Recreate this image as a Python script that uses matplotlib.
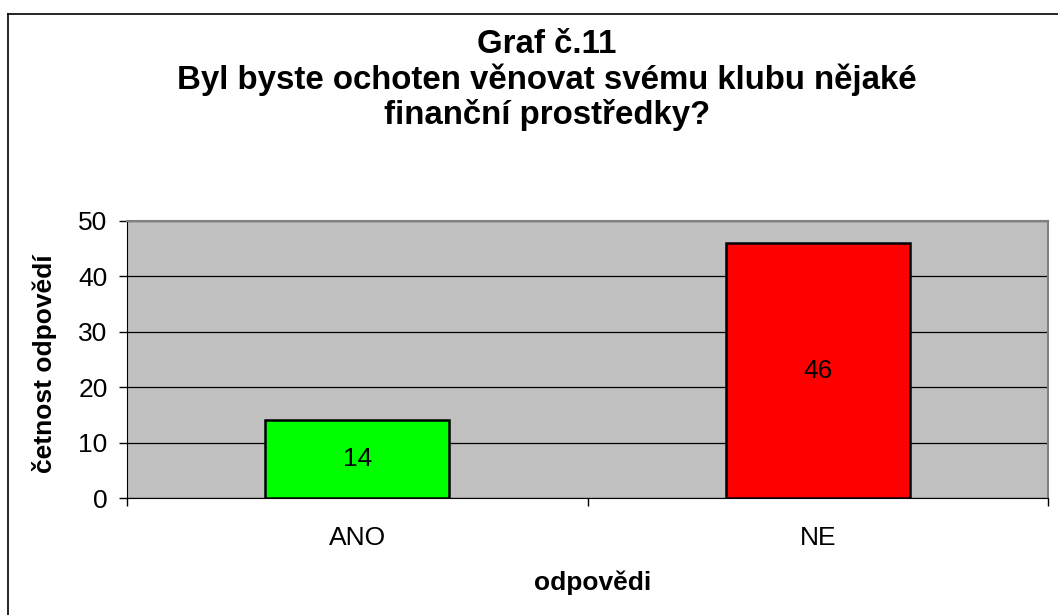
import matplotlib.pyplot as plt
import numpy as np

plt.rcParams['font.family'] = ['Liberation Sans', 'DejaVu Sans']

# Data
categories = ['ANO', 'NE']
counts = [14, 46]
colors = ['#00FF00', '#FF0000']

fig = plt.figure(figsize=(10.58, 6.15), dpi=100)
W, H = 1058, 615
# plot area in pixels: left 127, right 1048, top 221, bottom 498
ax = fig.add_axes([127 / W, 1 - 498 / H, (1048 - 127) / W, (498 - 221) / H])

x = np.arange(len(categories))
ax.set_facecolor('#C0C0C0')
ax.set_axisbelow(True)
ax.yaxis.grid(True, color='black', linewidth=0.9)
bars = ax.bar(x, counts, width=0.40, color=colors, edgecolor='black', linewidth=1.8, zorder=3)
for b, v in zip(bars, counts):
    ax.text(b.get_x() + b.get_width() / 2, v / 2, str(v), ha='center', va='center',
            fontsize=19, zorder=4)

ax.set_xlim(-0.5, len(categories) - 0.5)
ax.set_ylim(0, 50)
ax.set_yticks(range(0, 51, 10))
ax.tick_params(axis='y', labelsize=19, length=6, width=1, pad=8)

# category labels between boundary ticks
ax.set_xticks(np.arange(-0.5, len(categories), 1.0))
ax.set_xticklabels([])
ax.set_xticks(x, minor=True)
ax.set_xticklabels(categories, minor=True)
ax.tick_params(axis='x', which='major', length=6, width=1, direction='out')
ax.tick_params(axis='x', which='minor', length=0, labelsize=19, pad=20)

for side in ['top', 'right']:
    ax.spines[side].set_color('#808080')
    ax.spines[side].set_linewidth(1.5)
ax.spines['left'].set_color('black')
ax.spines['bottom'].set_color('black')

ax.set_ylabel('četnost odpovědí', fontsize=19, fontweight='bold')
ax.yaxis.set_label_coords((45 - 127) / (1048 - 127), (498 - 364) / (498 - 221))
ax.set_xlabel('odpovědi', fontsize=19, fontweight='bold')
ax.xaxis.set_label_coords((593 - 127) / (1048 - 127), (498 - 583) / (498 - 221))
ax.xaxis.label.set_va('center')
ax.yaxis.label.set_va('center')

fig.text(547 / W, 1 - 80 / H,
         'Graf č.11\nByl byste ochoten věnovat svému klubu nějaké\nfinanční prostředky?',
         ha='center', va='center', fontsize=23.8, fontweight='bold', linespacing=1.13)

# outer chart border (left and top visible)
fig.add_artist(plt.Line2D([8 / W, 8 / W], [0, 1 - 14 / H], transform=fig.transFigure,
                          color='black', linewidth=1.2))
fig.add_artist(plt.Line2D([8 / W, 1], [1 - 14 / H, 1 - 14 / H], transform=fig.transFigure,
                          color='black', linewidth=1.2))

fig.savefig('out.png', dpi=100)
